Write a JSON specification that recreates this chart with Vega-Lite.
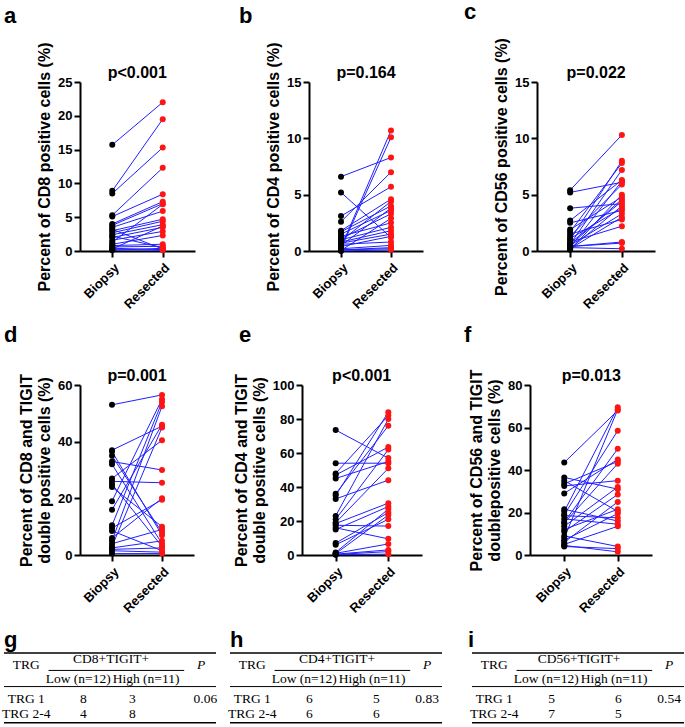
{
"$schema":"https://vega.github.io/schema/vega-lite/v6.json",
"background":"white",
"padding":{"left":2,"top":0,"right":1,"bottom":0},
"config":{
 "font":"Liberation Sans",
 "view":{"stroke":null},
 "axis":{"grid":false,"domainColor":"#000","domainWidth":2,"tickColor":"#000","tickWidth":2,"tickSize":6,"labelColor":"#000","labelFontSize":13,"labelFontWeight":"bold","labelFont":"Liberation Sans","titleFont":"Liberation Sans","titleFontSize":16,"titleFontWeight":"bold","titleColor":"#000","labelPadding":2,"titlePadding":5,"titleLineHeight":18,"labelOverlap":false},
 "title":{"fontSize":22,"fontWeight":"bold","font":"Liberation Sans","color":"#000","anchor":"start","frame":"group"}
},
"datasets":{
 "a":[{"id":1,"Biopsy":15.7,"Resected":22.0},{"id":2,"Biopsy":8.9,"Resected":19.5},{"id":3,"Biopsy":8.5,"Resected":15.3},{"id":4,"Biopsy":5.3,"Resected":12.3},{"id":5,"Biopsy":5.1,"Resected":8.4},{"id":6,"Biopsy":4.0,"Resected":7.3},{"id":7,"Biopsy":3.8,"Resected":7.0},{"id":8,"Biopsy":3.5,"Resected":5.9},{"id":9,"Biopsy":3.2,"Resected":0.3},{"id":10,"Biopsy":3.0,"Resected":4.7},{"id":11,"Biopsy":2.7,"Resected":4.4},{"id":12,"Biopsy":2.4,"Resected":3.9},{"id":13,"Biopsy":2.2,"Resected":0.5},{"id":14,"Biopsy":2.0,"Resected":3.5},{"id":15,"Biopsy":1.6,"Resected":2.9},{"id":16,"Biopsy":1.3,"Resected":6.9},{"id":17,"Biopsy":1.0,"Resected":2.3},{"id":18,"Biopsy":0.8,"Resected":1.0},{"id":19,"Biopsy":0.6,"Resected":0.7},{"id":20,"Biopsy":0.4,"Resected":0.2},{"id":21,"Biopsy":0.3,"Resected":3.7},{"id":22,"Biopsy":0.2,"Resected":0.1},{"id":23,"Biopsy":0.1,"Resected":0.4}],
 "b":[{"id":1,"Biopsy":6.6,"Resected":8.3},{"id":2,"Biopsy":5.2,"Resected":1.2},{"id":3,"Biopsy":3.1,"Resected":5.7},{"id":4,"Biopsy":2.6,"Resected":7.0},{"id":5,"Biopsy":1.8,"Resected":4.6},{"id":6,"Biopsy":1.7,"Resected":4.0},{"id":7,"Biopsy":1.5,"Resected":3.6},{"id":8,"Biopsy":1.3,"Resected":2.5},{"id":9,"Biopsy":1.1,"Resected":3.3},{"id":10,"Biopsy":1.0,"Resected":2.1},{"id":11,"Biopsy":0.9,"Resected":4.4},{"id":12,"Biopsy":0.8,"Resected":1.8},{"id":13,"Biopsy":0.7,"Resected":1.5},{"id":14,"Biopsy":0.6,"Resected":0.8},{"id":15,"Biopsy":0.5,"Resected":3.8},{"id":16,"Biopsy":0.4,"Resected":1.3},{"id":17,"Biopsy":0.3,"Resected":10.7},{"id":18,"Biopsy":0.2,"Resected":10.1},{"id":19,"Biopsy":0.2,"Resected":0.5},{"id":20,"Biopsy":0.1,"Resected":0.3},{"id":21,"Biopsy":0.1,"Resected":0.2},{"id":22,"Biopsy":0.05,"Resected":2.9},{"id":23,"Biopsy":0.0,"Resected":0.1}],
 "c":[{"id":1,"Biopsy":5.4,"Resected":10.3},{"id":2,"Biopsy":5.2,"Resected":6.1},{"id":3,"Biopsy":3.8,"Resected":4.2},{"id":4,"Biopsy":2.7,"Resected":6.3},{"id":5,"Biopsy":2.5,"Resected":3.6},{"id":6,"Biopsy":1.9,"Resected":4.8},{"id":7,"Biopsy":1.7,"Resected":7.8},{"id":8,"Biopsy":1.5,"Resected":2.8},{"id":9,"Biopsy":1.3,"Resected":5.9},{"id":10,"Biopsy":1.1,"Resected":3.8},{"id":11,"Biopsy":1.0,"Resected":8.0},{"id":12,"Biopsy":0.8,"Resected":2.2},{"id":13,"Biopsy":0.7,"Resected":4.4},{"id":14,"Biopsy":0.6,"Resected":7.2},{"id":15,"Biopsy":0.5,"Resected":3.3},{"id":16,"Biopsy":0.5,"Resected":4.6},{"id":17,"Biopsy":0.4,"Resected":0.8},{"id":18,"Biopsy":0.4,"Resected":0.7},{"id":19,"Biopsy":0.3,"Resected":6.2},{"id":20,"Biopsy":0.3,"Resected":0.2},{"id":21,"Biopsy":0.2,"Resected":4.0},{"id":22,"Biopsy":0.2,"Resected":3.0},{"id":23,"Biopsy":0.1,"Resected":5.0}],
 "d":[{"id":1,"Biopsy":53,"Resected":56.5},{"id":2,"Biopsy":37,"Resected":45.5},{"id":3,"Biopsy":36.5,"Resected":7},{"id":4,"Biopsy":35,"Resected":8},{"id":5,"Biopsy":33,"Resected":30},{"id":6,"Biopsy":32,"Resected":4},{"id":7,"Biopsy":27,"Resected":40.5},{"id":8,"Biopsy":26,"Resected":25.5},{"id":9,"Biopsy":25,"Resected":3},{"id":10,"Biopsy":24,"Resected":10},{"id":11,"Biopsy":19,"Resected":55},{"id":12,"Biopsy":16,"Resected":46},{"id":13,"Biopsy":10.5,"Resected":54},{"id":14,"Biopsy":9.5,"Resected":19.5},{"id":15,"Biopsy":8.5,"Resected":1.5},{"id":16,"Biopsy":6,"Resected":20},{"id":17,"Biopsy":5,"Resected":52.5},{"id":18,"Biopsy":4,"Resected":9},{"id":19,"Biopsy":3,"Resected":45},{"id":20,"Biopsy":2.5,"Resected":5},{"id":21,"Biopsy":2,"Resected":2.5},{"id":22,"Biopsy":1.5,"Resected":1},{"id":23,"Biopsy":0.5,"Resected":0.5}],
 "e":[{"id":1,"Biopsy":73.5,"Resected":57},{"id":2,"Biopsy":54,"Resected":54},{"id":3,"Biopsy":48,"Resected":82},{"id":4,"Biopsy":47,"Resected":63.5},{"id":5,"Biopsy":45,"Resected":55},{"id":6,"Biopsy":36,"Resected":76},{"id":7,"Biopsy":35,"Resected":84},{"id":8,"Biopsy":33,"Resected":44},{"id":9,"Biopsy":23,"Resected":80},{"id":10,"Biopsy":21,"Resected":62},{"id":11,"Biopsy":19,"Resected":51},{"id":12,"Biopsy":18.5,"Resected":30.5},{"id":13,"Biopsy":17.5,"Resected":17},{"id":14,"Biopsy":16,"Resected":9.5},{"id":15,"Biopsy":15,"Resected":28.5},{"id":16,"Biopsy":7,"Resected":25},{"id":17,"Biopsy":6,"Resected":21},{"id":18,"Biopsy":1.5,"Resected":27},{"id":19,"Biopsy":1,"Resected":6.5},{"id":20,"Biopsy":0.8,"Resected":23.5},{"id":21,"Biopsy":0.5,"Resected":3},{"id":22,"Biopsy":0.3,"Resected":2},{"id":23,"Biopsy":0.2,"Resected":0.5}],
 "f":[{"id":1,"Biopsy":43.5,"Resected":68},{"id":2,"Biopsy":36.5,"Resected":31},{"id":3,"Biopsy":35,"Resected":20.5},{"id":4,"Biopsy":33.5,"Resected":44},{"id":5,"Biopsy":32.5,"Resected":35},{"id":6,"Biopsy":29,"Resected":45},{"id":7,"Biopsy":21.5,"Resected":16},{"id":8,"Biopsy":20.5,"Resected":69.5},{"id":9,"Biopsy":19,"Resected":58.5},{"id":10,"Biopsy":18.5,"Resected":17.5},{"id":11,"Biopsy":17,"Resected":14.5},{"id":12,"Biopsy":15.5,"Resected":50},{"id":13,"Biopsy":15,"Resected":43},{"id":14,"Biopsy":13.5,"Resected":32},{"id":15,"Biopsy":12,"Resected":21.5},{"id":16,"Biopsy":11,"Resected":28.5},{"id":17,"Biopsy":9,"Resected":4},{"id":18,"Biopsy":8,"Resected":68.5},{"id":19,"Biopsy":7,"Resected":19.5},{"id":20,"Biopsy":6,"Resected":25},{"id":21,"Biopsy":5,"Resected":13.5},{"id":22,"Biopsy":4.5,"Resected":1.5},{"id":23,"Biopsy":4,"Resected":3}],
 "rules":[{"x":0,"x2":10,"y":0,"w":1.5},{"x":2.1,"x2":8.5,"y":1.35,"w":1},{"x":0,"x2":10,"y":2.6,"w":1},{"x":0,"x2":10,"y":5.4,"w":1.5}],
 "g":[{"c":1.05,"r":0.95,"t":"TRG"},{"c":5.05,"r":0.45,"t":"CD8+TIGIT+"},{"c":9.3,"r":0.95,"t":"P","it":1},{"c":3.5,"r":2.0,"t":"Low (n=12)"},{"c":6.7,"r":2.0,"t":"High (n=11)"},{"c":1.05,"r":3.55,"t":"TRG 1"},{"c":3.75,"r":3.55,"t":"8"},{"c":6.05,"r":3.55,"t":"3"},{"c":9.5,"r":3.55,"t":"0.06"},{"c":1.05,"r":4.7,"t":"TRG 2-4"},{"c":3.75,"r":4.7,"t":"4"},{"c":6.05,"r":4.7,"t":"8"}],
 "h":[{"c":1.05,"r":0.95,"t":"TRG"},{"c":5.05,"r":0.45,"t":"CD4+TIGIT+"},{"c":9.3,"r":0.95,"t":"P","it":1},{"c":3.5,"r":2.0,"t":"Low (n=12)"},{"c":6.7,"r":2.0,"t":"High (n=11)"},{"c":1.05,"r":3.55,"t":"TRG 1"},{"c":3.75,"r":3.55,"t":"6"},{"c":6.9,"r":3.55,"t":"5"},{"c":9.3,"r":3.55,"t":"0.83"},{"c":1.05,"r":4.7,"t":"TRG 2-4"},{"c":3.75,"r":4.7,"t":"6"},{"c":6.9,"r":4.7,"t":"6"}],
 "i":[{"c":1.05,"r":0.95,"t":"TRG"},{"c":5.05,"r":0.45,"t":"CD56+TIGIT+"},{"c":9.3,"r":0.95,"t":"P","it":1},{"c":3.5,"r":2.0,"t":"Low (n=12)"},{"c":6.7,"r":2.0,"t":"High (n=11)"},{"c":1.05,"r":3.55,"t":"TRG 1"},{"c":3.75,"r":3.55,"t":"5"},{"c":6.9,"r":3.55,"t":"6"},{"c":9.3,"r":3.55,"t":"0.54"},{"c":1.05,"r":4.7,"t":"TRG 2-4"},{"c":3.75,"r":4.7,"t":"7"},{"c":6.9,"r":4.7,"t":"5"}]
},
"columns":1,
"align":"none",
"spacing":12,
"concat":[
{"hconcat":[
 {"width":115,"height":169,"title":{"text":"a","dx":-76,"offset":14},
  "layer":[
   {"data":{"name":"a"},"transform":[{"fold":["Biopsy","Resected"],"as":["sample","value"]}],"mark":{"type":"line","color":"#1f1fff","strokeWidth":1},
    "encoding":{"x":{"field":"sample","type":"nominal","scale":{"type":"point","padding":0.64,"domain":["Biopsy","Resected"]},"axis":{"title":null,"labelAngle":-45,"labelAlign":"right","labelBaseline":"top","labelPadding":4}},"y":{"field":"value","type":"quantitative","scale":{"domain":[0,25],"nice":false},"axis":{"values":[0,5,10,15,20,25],"title":"Percent of CD8 positive cells (%)"}},"detail":{"field":"id","type":"nominal"}}},
   {"data":{"name":"a"},"transform":[{"fold":["Biopsy","Resected"],"as":["sample","value"]}],"mark":{"type":"circle","size":36,"opacity":1},
    "encoding":{"x":{"field":"sample","type":"nominal","scale":{"type":"point","padding":0.64,"domain":["Biopsy","Resected"]},"axis":{"title":null,"labelAngle":-45,"labelAlign":"right","labelBaseline":"top","labelPadding":4}},"y":{"field":"value","type":"quantitative","scale":{"domain":[0,25],"nice":false},"axis":{"values":[0,5,10,15,20,25],"title":"Percent of CD8 positive cells (%)"}},"color":{"field":"sample","type":"nominal","scale":{"domain":["Biopsy","Resected"],"range":["#000000","#ff1414"]},"legend":null}}},
   {"data":{"values":[{"p":"p<0.001"}]},"mark":{"type":"text","fontSize":16,"fontWeight":"bold","dx":25,"dy":-4,"baseline":"alphabetic","align":"center"},
    "encoding":{"x":{"datum":"Biopsy","type":"nominal","scale":{"type":"point","padding":0.64,"domain":["Biopsy","Resected"]},"axis":{"title":null,"labelAngle":-45,"labelAlign":"right","labelBaseline":"top","labelPadding":4}},"y":{"datum":25,"type":"quantitative","scale":{"domain":[0,25],"nice":false},"axis":{"values":[0,5,10,15,20,25],"title":"Percent of CD8 positive cells (%)"}},"text":{"field":"p"}}}
  ]},
 {"width":114,"height":169,"title":{"text":"b","dx":-70,"offset":14},
  "layer":[
   {"data":{"name":"b"},"transform":[{"fold":["Biopsy","Resected"],"as":["sample","value"]}],"mark":{"type":"line","color":"#1f1fff","strokeWidth":1},
    "encoding":{"x":{"field":"sample","type":"nominal","scale":{"type":"point","padding":0.64,"domain":["Biopsy","Resected"]},"axis":{"title":null,"labelAngle":-45,"labelAlign":"right","labelBaseline":"top","labelPadding":4}},"y":{"field":"value","type":"quantitative","scale":{"domain":[0,15],"nice":false},"axis":{"values":[0,5,10,15],"title":"Percent of CD4 positive cells (%)"}},"detail":{"field":"id","type":"nominal"}}},
   {"data":{"name":"b"},"transform":[{"fold":["Biopsy","Resected"],"as":["sample","value"]}],"mark":{"type":"circle","size":36,"opacity":1},
    "encoding":{"x":{"field":"sample","type":"nominal","scale":{"type":"point","padding":0.64,"domain":["Biopsy","Resected"]},"axis":{"title":null,"labelAngle":-45,"labelAlign":"right","labelBaseline":"top","labelPadding":4}},"y":{"field":"value","type":"quantitative","scale":{"domain":[0,15],"nice":false},"axis":{"values":[0,5,10,15],"title":"Percent of CD4 positive cells (%)"}},"color":{"field":"sample","type":"nominal","scale":{"domain":["Biopsy","Resected"],"range":["#000000","#ff1414"]},"legend":null}}},
   {"data":{"values":[{"p":"p=0.164"}]},"mark":{"type":"text","fontSize":16,"fontWeight":"bold","dx":25,"dy":-4,"baseline":"alphabetic","align":"center"},
    "encoding":{"x":{"datum":"Biopsy","type":"nominal","scale":{"type":"point","padding":0.64,"domain":["Biopsy","Resected"]},"axis":{"title":null,"labelAngle":-45,"labelAlign":"right","labelBaseline":"top","labelPadding":4}},"y":{"datum":15,"type":"quantitative","scale":{"domain":[0,15],"nice":false},"axis":{"values":[0,5,10,15],"title":"Percent of CD4 positive cells (%)"}},"text":{"field":"p"}}}
  ]},
 {"width":118,"height":169,"title":{"text":"c","dx":-73,"offset":14},
  "layer":[
   {"data":{"name":"c"},"transform":[{"fold":["Biopsy","Resected"],"as":["sample","value"]}],"mark":{"type":"line","color":"#1f1fff","strokeWidth":1},
    "encoding":{"x":{"field":"sample","type":"nominal","scale":{"type":"point","padding":0.64,"domain":["Biopsy","Resected"]},"axis":{"title":null,"labelAngle":-45,"labelAlign":"right","labelBaseline":"top","labelPadding":4}},"y":{"field":"value","type":"quantitative","scale":{"domain":[0,15],"nice":false},"axis":{"values":[0,5,10,15],"title":"Percent of CD56 positive cells (%)"}},"detail":{"field":"id","type":"nominal"}}},
   {"data":{"name":"c"},"transform":[{"fold":["Biopsy","Resected"],"as":["sample","value"]}],"mark":{"type":"circle","size":36,"opacity":1},
    "encoding":{"x":{"field":"sample","type":"nominal","scale":{"type":"point","padding":0.64,"domain":["Biopsy","Resected"]},"axis":{"title":null,"labelAngle":-45,"labelAlign":"right","labelBaseline":"top","labelPadding":4}},"y":{"field":"value","type":"quantitative","scale":{"domain":[0,15],"nice":false},"axis":{"values":[0,5,10,15],"title":"Percent of CD56 positive cells (%)"}},"color":{"field":"sample","type":"nominal","scale":{"domain":["Biopsy","Resected"],"range":["#000000","#ff1414"]},"legend":null}}},
   {"data":{"values":[{"p":"p=0.022"}]},"mark":{"type":"text","fontSize":16,"fontWeight":"bold","dx":26,"dy":-4,"baseline":"alphabetic","align":"center"},
    "encoding":{"x":{"datum":"Biopsy","type":"nominal","scale":{"type":"point","padding":0.64,"domain":["Biopsy","Resected"]},"axis":{"title":null,"labelAngle":-45,"labelAlign":"right","labelBaseline":"top","labelPadding":4}},"y":{"datum":15,"type":"quantitative","scale":{"domain":[0,15],"nice":false},"axis":{"values":[0,5,10,15],"title":"Percent of CD56 positive cells (%)"}},"text":{"field":"p"}}}
  ]}
 ],"spacing":114,"bounds":"flush"},
{"hconcat":[
 {"width":114,"height":170,"title":{"text":"d","dx":-76,"offset":21},
  "layer":[
   {"data":{"name":"d"},"transform":[{"fold":["Biopsy","Resected"],"as":["sample","value"]}],"mark":{"type":"line","color":"#1f1fff","strokeWidth":1},
    "encoding":{"x":{"field":"sample","type":"nominal","scale":{"type":"point","padding":0.64,"domain":["Biopsy","Resected"]},"axis":{"title":null,"labelAngle":-45,"labelAlign":"right","labelBaseline":"top","labelPadding":4}},"y":{"field":"value","type":"quantitative","scale":{"domain":[0,60],"nice":false},"axis":{"values":[0,20,40,60],"title":["Percent of CD8 and TIGIT","double positive cells (%)"]}},"detail":{"field":"id","type":"nominal"}}},
   {"data":{"name":"d"},"transform":[{"fold":["Biopsy","Resected"],"as":["sample","value"]}],"mark":{"type":"circle","size":36,"opacity":1},
    "encoding":{"x":{"field":"sample","type":"nominal","scale":{"type":"point","padding":0.64,"domain":["Biopsy","Resected"]},"axis":{"title":null,"labelAngle":-45,"labelAlign":"right","labelBaseline":"top","labelPadding":4}},"y":{"field":"value","type":"quantitative","scale":{"domain":[0,60],"nice":false},"axis":{"values":[0,20,40,60],"title":["Percent of CD8 and TIGIT","double positive cells (%)"]}},"color":{"field":"sample","type":"nominal","scale":{"domain":["Biopsy","Resected"],"range":["#000000","#ff1414"]},"legend":null}}},
   {"data":{"values":[{"p":"p=0.001"}]},"mark":{"type":"text","fontSize":16,"fontWeight":"bold","dx":25,"dy":-4,"baseline":"alphabetic","align":"center"},
    "encoding":{"x":{"datum":"Biopsy","type":"nominal","scale":{"type":"point","padding":0.64,"domain":["Biopsy","Resected"]},"axis":{"title":null,"labelAngle":-45,"labelAlign":"right","labelBaseline":"top","labelPadding":4}},"y":{"datum":60,"type":"quantitative","scale":{"domain":[0,60],"nice":false},"axis":{"values":[0,20,40,60],"title":["Percent of CD8 and TIGIT","double positive cells (%)"]}},"text":{"field":"p"}}}
  ]},
 {"width":120,"height":170,"title":{"text":"e","dx":-63,"offset":21},
  "layer":[
   {"data":{"name":"e"},"transform":[{"fold":["Biopsy","Resected"],"as":["sample","value"]}],"mark":{"type":"line","color":"#1f1fff","strokeWidth":1},
    "encoding":{"x":{"field":"sample","type":"nominal","scale":{"type":"point","padding":0.64,"domain":["Biopsy","Resected"]},"axis":{"title":null,"labelAngle":-45,"labelAlign":"right","labelBaseline":"top","labelPadding":4}},"y":{"field":"value","type":"quantitative","scale":{"domain":[0,100],"nice":false},"axis":{"values":[0,20,40,60,80,100],"title":["Percent of CD4 and TIGIT","double positive cells (%)"]}},"detail":{"field":"id","type":"nominal"}}},
   {"data":{"name":"e"},"transform":[{"fold":["Biopsy","Resected"],"as":["sample","value"]}],"mark":{"type":"circle","size":36,"opacity":1},
    "encoding":{"x":{"field":"sample","type":"nominal","scale":{"type":"point","padding":0.64,"domain":["Biopsy","Resected"]},"axis":{"title":null,"labelAngle":-45,"labelAlign":"right","labelBaseline":"top","labelPadding":4}},"y":{"field":"value","type":"quantitative","scale":{"domain":[0,100],"nice":false},"axis":{"values":[0,20,40,60,80,100],"title":["Percent of CD4 and TIGIT","double positive cells (%)"]}},"color":{"field":"sample","type":"nominal","scale":{"domain":["Biopsy","Resected"],"range":["#000000","#ff1414"]},"legend":null}}},
   {"data":{"values":[{"p":"p<0.001"}]},"mark":{"type":"text","fontSize":16,"fontWeight":"bold","dx":26,"dy":-4,"baseline":"alphabetic","align":"center"},
    "encoding":{"x":{"datum":"Biopsy","type":"nominal","scale":{"type":"point","padding":0.64,"domain":["Biopsy","Resected"]},"axis":{"title":null,"labelAngle":-45,"labelAlign":"right","labelBaseline":"top","labelPadding":4}},"y":{"datum":100,"type":"quantitative","scale":{"domain":[0,100],"nice":false},"axis":{"values":[0,20,40,60,80,100],"title":["Percent of CD4 and TIGIT","double positive cells (%)"]}},"text":{"field":"p"}}}
  ]},
 {"width":122,"height":170,"title":{"text":"f","dx":-66,"offset":21},
  "layer":[
   {"data":{"name":"f"},"transform":[{"fold":["Biopsy","Resected"],"as":["sample","value"]}],"mark":{"type":"line","color":"#1f1fff","strokeWidth":1},
    "encoding":{"x":{"field":"sample","type":"nominal","scale":{"type":"point","padding":0.64,"domain":["Biopsy","Resected"]},"axis":{"title":null,"labelAngle":-45,"labelAlign":"right","labelBaseline":"top","labelPadding":4}},"y":{"field":"value","type":"quantitative","scale":{"domain":[0,80],"nice":false},"axis":{"values":[0,20,40,60,80],"title":["Percent of CD56 and TIGIT","doublepositive cells (%)"]}},"detail":{"field":"id","type":"nominal"}}},
   {"data":{"name":"f"},"transform":[{"fold":["Biopsy","Resected"],"as":["sample","value"]}],"mark":{"type":"circle","size":36,"opacity":1},
    "encoding":{"x":{"field":"sample","type":"nominal","scale":{"type":"point","padding":0.64,"domain":["Biopsy","Resected"]},"axis":{"title":null,"labelAngle":-45,"labelAlign":"right","labelBaseline":"top","labelPadding":4}},"y":{"field":"value","type":"quantitative","scale":{"domain":[0,80],"nice":false},"axis":{"values":[0,20,40,60,80],"title":["Percent of CD56 and TIGIT","doublepositive cells (%)"]}},"color":{"field":"sample","type":"nominal","scale":{"domain":["Biopsy","Resected"],"range":["#000000","#ff1414"]},"legend":null}}},
   {"data":{"values":[{"p":"p=0.013"}]},"mark":{"type":"text","fontSize":16,"fontWeight":"bold","dx":27,"dy":-4,"baseline":"alphabetic","align":"center"},
    "encoding":{"x":{"datum":"Biopsy","type":"nominal","scale":{"type":"point","padding":0.64,"domain":["Biopsy","Resected"]},"axis":{"title":null,"labelAngle":-45,"labelAlign":"right","labelBaseline":"top","labelPadding":4}},"y":{"datum":80,"type":"quantitative","scale":{"domain":[0,80],"nice":false},"axis":{"values":[0,20,40,60,80],"title":["Percent of CD56 and TIGIT","doublepositive cells (%)"]}},"text":{"field":"p"}}}
  ]}
 ],"spacing":108,"bounds":"flush"},
{"hconcat":[
 {"width":136,"height":71,"title":{"text":"g","dx":-76,"offset":0},
  "layer":[
   {"data":{"name":"rules"},"mark":{"type":"rule","color":"#000"},
    "encoding":{"x":{"field":"x","type":"quantitative","scale":{"domain":[3.585,10],"nice":false,"zero":false},"axis":null},"x2":{"field":"x2"},"y":{"field":"y","type":"quantitative","scale":{"domain":[0,5.4],"reverse":true},"axis":null},"strokeWidth":{"field":"w","type":"quantitative","scale":null}}},
   {"data":{"name":"g"},"transform":[{"filter":"!datum.it"}],"mark":{"type":"text","font":"Liberation Serif","fontSize":13.5,"baseline":"middle","color":"#000"},
    "encoding":{"x":{"field":"c","type":"quantitative"},"y":{"field":"r","type":"quantitative"},"text":{"field":"t"}}},
   {"data":{"name":"g"},"transform":[{"filter":"datum.it"}],"mark":{"type":"text","font":"Liberation Serif","fontSize":13.5,"fontStyle":"italic","baseline":"middle","color":"#000"},
    "encoding":{"x":{"field":"c","type":"quantitative"},"y":{"field":"r","type":"quantitative"},"text":{"field":"t"}}}
  ]},
 {"width":228,"height":71,"title":{"text":"h","dx":0,"offset":0},
  "layer":[
   {"data":{"name":"rules"},"mark":{"type":"rule","color":"#000"},
    "encoding":{"x":{"field":"x","type":"quantitative","scale":{"domain":[0,10.755],"nice":false},"axis":null},"x2":{"field":"x2"},"y":{"field":"y","type":"quantitative","scale":{"domain":[0,5.4],"reverse":true},"axis":null},"strokeWidth":{"field":"w","type":"quantitative","scale":null}}},
   {"data":{"name":"h"},"transform":[{"filter":"!datum.it"}],"mark":{"type":"text","font":"Liberation Serif","fontSize":13.5,"baseline":"middle","color":"#000"},
    "encoding":{"x":{"field":"c","type":"quantitative"},"y":{"field":"r","type":"quantitative"},"text":{"field":"t"}}},
   {"data":{"name":"h"},"transform":[{"filter":"datum.it"}],"mark":{"type":"text","font":"Liberation Serif","fontSize":13.5,"fontStyle":"italic","baseline":"middle","color":"#000"},
    "encoding":{"x":{"field":"c","type":"quantitative"},"y":{"field":"r","type":"quantitative"},"text":{"field":"t"}}}
  ]},
 {"width":212,"height":71,"title":{"text":"i","dx":-4,"offset":0},
  "layer":[
   {"data":{"name":"rules"},"mark":{"type":"rule","color":"#000"},
    "encoding":{"x":{"field":"x","type":"quantitative","scale":{"domain":[0,10],"nice":false},"axis":null},"x2":{"field":"x2"},"y":{"field":"y","type":"quantitative","scale":{"domain":[0,5.4],"reverse":true},"axis":null},"strokeWidth":{"field":"w","type":"quantitative","scale":null}}},
   {"data":{"name":"i"},"transform":[{"filter":"!datum.it"}],"mark":{"type":"text","font":"Liberation Serif","fontSize":13.5,"baseline":"middle","color":"#000"},
    "encoding":{"x":{"field":"c","type":"quantitative"},"y":{"field":"r","type":"quantitative"},"text":{"field":"t"}}},
   {"data":{"name":"i"},"transform":[{"filter":"datum.it"}],"mark":{"type":"text","font":"Liberation Serif","fontSize":13.5,"fontStyle":"italic","baseline":"middle","color":"#000"},
    "encoding":{"x":{"field":"c","type":"quantitative"},"y":{"field":"r","type":"quantitative"},"text":{"field":"t"}}}
  ]}
 ],"spacing":14,"bounds":"flush"}
]
}
